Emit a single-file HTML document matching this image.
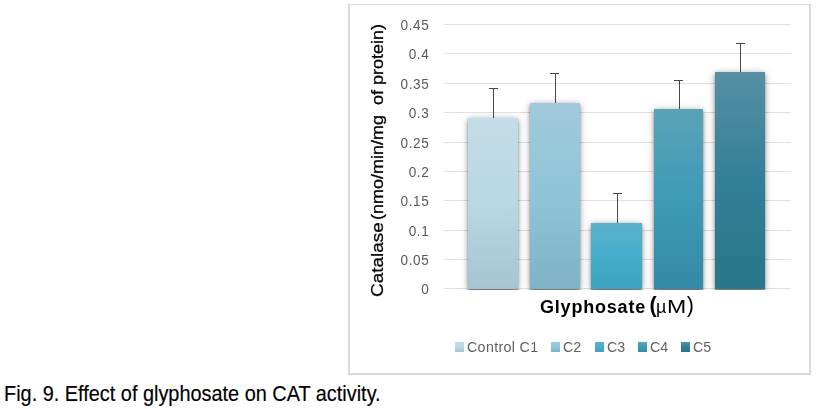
<!DOCTYPE html>
<html><head><meta charset="utf-8"><style>
html,body{margin:0;padding:0;background:#fff;width:818px;height:409px;overflow:hidden;position:relative;font-family:"Liberation Sans",sans-serif}
.frame{position:absolute;left:348px;top:4px;width:459px;height:368px;border:2px solid #d9d9d9;border-top-width:1.5px}
.gl{position:absolute;left:444px;width:347px;height:1px;background:#e0e0e0}
.tl{position:absolute;left:380px;width:49.3px;text-align:right;font-size:14px;line-height:20px;color:#595959;letter-spacing:0.6px;transform:scale(0.97,1.05);transform-origin:100% 50%}
.bar{position:absolute;box-shadow:0 2px 4px -1px rgba(0,0,0,0.3), 0 1px 7px rgba(0,0,0,0.35), 0 1px 1px rgba(0,0,0,0.3)}
.ev{position:absolute;width:1px;background:#474747}
.ec{position:absolute;width:9px;height:1px;background:#474747}
.sw{position:absolute;top:342px;width:9px;height:9.5px}
.lt{position:absolute;top:337.9px;transform:scale(0.95,1.02);transform-origin:0 14px;font-size:15px;line-height:17px;color:#5f5f5f}
.yt{position:absolute;transform-origin:0 0;white-space:pre;-webkit-text-stroke:0.3px #000;font-size:18.15px;line-height:20px;color:#000}
.xt{position:absolute;top:296px;font-size:18px;line-height:22px;color:#000;white-space:pre}
.cap{position:absolute;left:4px;top:382px;transform:scaleY(1.1);transform-origin:0 19px;font-size:19.9px;line-height:24px;color:#000;white-space:pre;-webkit-text-stroke:0.15px #000}
</style></head><body>
<div class="frame"></div><div style="position:absolute;left:0;top:0;width:818px;height:378px;will-change:transform">
<div class="gl" style="top:288.10px"></div><div class="tl" style="top:279.10px">0</div><div class="gl" style="top:258.90px"></div><div class="tl" style="top:249.90px">0.05</div><div class="gl" style="top:229.90px"></div><div class="tl" style="top:220.90px">0.1</div><div class="gl" style="top:199.70px"></div><div class="tl" style="top:190.70px">0.15</div><div class="gl" style="top:170.90px"></div><div class="tl" style="top:161.90px">0.2</div><div class="gl" style="top:142.00px"></div><div class="tl" style="top:133.00px">0.25</div><div class="gl" style="top:111.90px"></div><div class="tl" style="top:102.90px">0.3</div><div class="gl" style="top:82.80px"></div><div class="tl" style="top:73.80px">0.35</div><div class="gl" style="top:53.00px"></div><div class="tl" style="top:44.00px">0.4</div><div class="gl" style="top:23.90px"></div><div class="tl" style="top:14.90px">0.45</div><div style="position:absolute;left:0;top:0;width:818px;height:290px;overflow:hidden"><div class="bar" style="left:467.70px;width:50.40px;top:117.90px;height:171.10px;background:linear-gradient(#c3dce7,#b8d8e4,#a6c5d3)"></div><div class="bar" style="left:530.10px;width:49.60px;top:103.20px;height:185.80px;background:linear-gradient(#a0cadb,#8ec5d8,#7db2c7)"></div><div class="bar" style="left:591.10px;width:50.70px;top:223.10px;height:65.90px;background:linear-gradient(#5fb0cb,#44aecb,#3ea2bf)"></div><div class="bar" style="left:654.10px;width:49.40px;top:109.00px;height:180.00px;background:linear-gradient(#5aa3b9,#3e9ab5,#348aa6)"></div><div class="bar" style="left:715.00px;width:50.00px;top:72.30px;height:216.70px;background:linear-gradient(#5690a5,#327f98,#287689)"></div></div><div class="ev" style="left:493px;top:88px;height:29.90px"></div><div class="ec" style="left:489px;top:88px"></div><div class="ev" style="left:555px;top:73px;height:30.20px"></div><div class="ec" style="left:550px;top:73px"></div><div class="ev" style="left:617px;top:193px;height:30.10px"></div><div class="ec" style="left:613px;top:193px"></div><div class="ev" style="left:679px;top:80px;height:29.00px"></div><div class="ec" style="left:674px;top:80px"></div><div class="ev" style="left:740px;top:43px;height:29.30px"></div><div class="ec" style="left:736px;top:43px"></div><div class="sw" style="left:454.60px;background:linear-gradient(#c3dce7,#b8d8e4,#a6c5d3)"></div><div class="lt" style="left:467.20px;letter-spacing:0.35px">Control C1</div><div class="sw" style="left:550.50px;background:linear-gradient(#a0cadb,#8ec5d8,#7db2c7)"></div><div class="lt" style="left:563.10px;letter-spacing:0px">C2</div><div class="sw" style="left:594.80px;background:linear-gradient(#5fb0cb,#44aecb,#3ea2bf)"></div><div class="lt" style="left:607.40px;letter-spacing:0px">C3</div><div class="sw" style="left:637.50px;background:linear-gradient(#5aa3b9,#3e9ab5,#348aa6)"></div><div class="lt" style="left:650.10px;letter-spacing:0px">C4</div><div class="sw" style="left:680.70px;background:linear-gradient(#5690a5,#327f98,#287689)"></div><div class="lt" style="left:693.30px;letter-spacing:0px">C5</div>
<div class="yt" style="left:368px;top:297.3px;transform:rotate(-90deg) scale(1.045,0.94)">Catalase</div><div class="yt" style="left:368px;top:219.6px;transform:rotate(-90deg) scale(0.992,0.94)">(nmo/min/mg  of protein)</div>
<div class="xt" style="left:540px;font-weight:bold;letter-spacing:0.8px">Glyphosate</div>
<div class="xt" style="left:649.5px;top:294px;font-size:21.5px;font-weight:bold">(</div>
<div class="xt" style="left:656px">&micro;</div>
<div class="xt" style="left:667.3px;font-size:18px;transform:scaleX(1.28);transform-origin:0 0">M</div>
<div class="xt" style="left:686.8px;top:294px;font-size:21.5px">)</div>
</div><div class="cap">Fig. 9. Effect of glyphosate on CAT activity.</div>
</body></html>
